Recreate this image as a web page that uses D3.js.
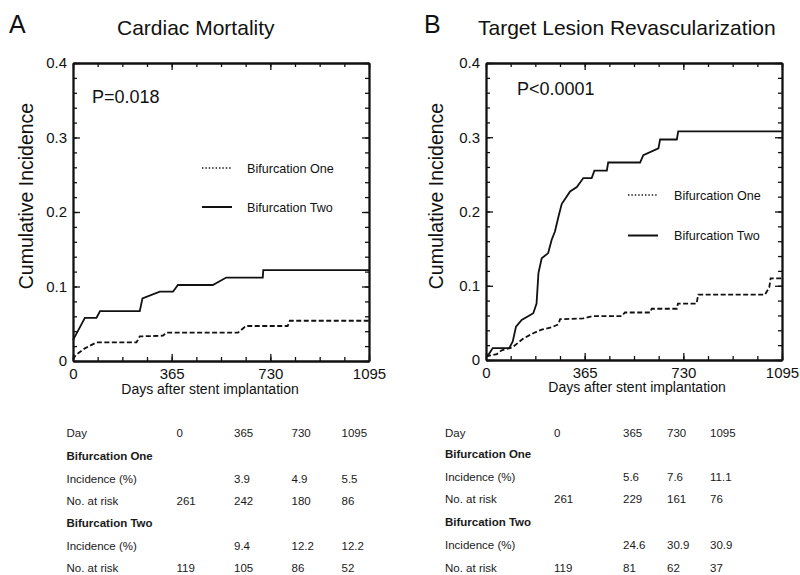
<!DOCTYPE html>
<html><head><meta charset="utf-8">
<script src="https://cdn.jsdelivr.net/npm/d3@7"></script>
<style>
html,body{margin:0;padding:0;background:#fff;}
svg{display:block;font-family:"Liberation Sans",Arial,sans-serif;}
</style></head>
<body><svg id="c" width="800" height="575"></svg>
<script>
// ---------- data ----------
const dayTicks = [0, 365, 730, 1095];
const incTicks = [0, 0.1, 0.2, 0.3, 0.4];
const incTickLabels = ["0", "0.1", "0.2", "0.3", "0.4"];

// Panel A: Cardiac Mortality
const aOneDays = [0, 10, 44, 87, 235, 247, 333, 345, 610, 640, 794, 802, 1095];
const aOneInc  = [0.002, 0.008, 0.017, 0.025, 0.025, 0.033, 0.034, 0.038, 0.038, 0.047, 0.047, 0.054, 0.054];
const aTwoDays = [0, 44, 87, 100, 247, 257, 321, 370, 388, 517, 567, 702, 704, 1095];
const aTwoInc  = [0.028, 0.058, 0.058, 0.067, 0.067, 0.084, 0.093, 0.093, 0.102, 0.102, 0.112, 0.112, 0.122, 0.122];

// Panel B: Target Lesion Revascularization
const bOneDays = [0, 40, 58, 89, 101, 138, 175, 206, 243, 268, 274, 360, 391, 502, 514, 607, 613, 706, 710, 779, 785, 1032, 1048, 1053, 1095];
const bOneInc  = [0.005, 0.008, 0.013, 0.016, 0.018, 0.029, 0.036, 0.041, 0.044, 0.048, 0.055, 0.056, 0.059, 0.059, 0.064, 0.064, 0.069, 0.069, 0.076, 0.076, 0.088, 0.088, 0.098, 0.110, 0.110];
const bTwoDays = [0, 9, 25, 86, 99, 111, 132, 175, 187, 194, 206, 230, 243, 255, 268, 280, 311, 336, 360, 391, 401, 447, 452, 570, 582, 638, 644, 706, 711, 1095];
const bTwoInc  = [0.007, 0.007, 0.016, 0.016, 0.025, 0.045, 0.054, 0.063, 0.076, 0.117, 0.137, 0.144, 0.162, 0.173, 0.193, 0.210, 0.227, 0.233, 0.245, 0.245, 0.255, 0.255, 0.266, 0.266, 0.276, 0.285, 0.297, 0.297, 0.308, 0.308];

// Tables
const tableHeader = ["Day", "0", "365", "730", "1095"];
const aOneIncTable = ["", "3.9", "4.9", "5.5"];
const aOneRisk = ["261", "242", "180", "86"];
const aTwoIncTable = ["", "9.4", "12.2", "12.2"];
const aTwoRisk = ["119", "105", "86", "52"];
const bOneIncTable = ["", "5.6", "7.6", "11.1"];
const bOneRisk = ["261", "229", "161", "76"];
const bTwoIncTable = ["", "24.6", "30.9", "30.9"];
const bTwoRisk = ["119", "81", "62", "37"];

// ---------- drawing ----------
const svg = d3.select("#c");
const ink = "#111";

function panel(cfg) {
  const g = svg.append("g");
  const x = d3.scaleLinear().domain([0, 1095]).range([cfg.left, cfg.right]);
  const y = d3.scaleLinear().domain([0, 0.4]).range([cfg.bottom, cfg.top]);
  const minorX = d3.range(0, 1096, 91.25);
  const minorY = d3.range(0, 0.401, 0.02);

  function styleAxis(sel) {
    sel.selectAll("path.domain").attr("stroke", ink).attr("stroke-width", 1.8);
    sel.selectAll(".tick line").attr("stroke", ink).attr("stroke-width", 1.3);
    sel.selectAll(".tick text").attr("fill", ink).style("font-size", "15px")
      .style("font-family", '"Liberation Sans",Arial,sans-serif');
  }
  // minor ticks
  const axes = [
    [d3.axisLeft(y).tickValues(minorY).tickSize(-4).tickFormat(""), `translate(${cfg.left},0)`],
    [d3.axisRight(y).tickValues(minorY).tickSize(-4).tickFormat(""), `translate(${cfg.right},0)`],
    [d3.axisTop(x).tickValues(minorX).tickSize(-4).tickFormat(""), `translate(0,${cfg.top})`],
    [d3.axisBottom(x).tickValues(minorX).tickSize(-4).tickFormat(""), `translate(0,${cfg.bottom})`],
    [d3.axisRight(y).tickValues(incTicks).tickSize(-7).tickSizeOuter(0).tickFormat(""), `translate(${cfg.right},0)`],
    [d3.axisTop(x).tickValues(dayTicks).tickSize(-7).tickSizeOuter(0).tickFormat(""), `translate(0,${cfg.top})`],
    [d3.axisLeft(y).tickValues(incTicks).tickSize(-7).tickSizeOuter(0).tickPadding(6)
       .tickFormat((d, i) => incTickLabels[i]), `translate(${cfg.left},0)`],
    [d3.axisBottom(x).tickValues(dayTicks).tickSize(-7).tickSizeOuter(0).tickPadding(7)
       .tickFormat(d => String(d)), `translate(0,${cfg.bottom})`]
  ];
  axes.forEach(([ax, tr]) => {
    const a = g.append("g").attr("transform", tr).call(ax.tickSizeOuter(0));
    styleAxis(a);
  });

  const line = d3.line().x(d => x(d[0])).y(d => y(d[1]));
  g.append("path").datum(d3.zip(cfg.oneDays, cfg.oneInc))
    .attr("d", line).attr("fill", "none").attr("stroke", ink)
    .attr("stroke-width", 1.8).attr("stroke-dasharray", "5,2.5");
  g.append("path").datum(d3.zip(cfg.twoDays, cfg.twoInc))
    .attr("d", line).attr("fill", "none").attr("stroke", ink)
    .attr("stroke-width", 1.8);

  // titles
  g.append("text").attr("x", cfg.letterX).attr("y", 33).text(cfg.letter)
    .attr("fill", ink).style("font-size", "25px");
  g.append("text").attr("x", cfg.titleX).attr("y", 35).text(cfg.title)
    .attr("fill", ink).style("font-size", "21px");
  g.append("text").attr("x", cfg.pX).attr("y", cfg.pY).text(cfg.p)
    .attr("fill", ink).style("font-size", "18px");
  g.append("text").attr("transform", `translate(${cfg.yLabX},196) rotate(-90)`)
    .attr("text-anchor", "middle").text("Cumulative Incidence")
    .attr("fill", ink).style("font-size", "19.5px");
  g.append("text").attr("x", cfg.xLabX).attr("y", cfg.xLabY).attr("text-anchor", "middle")
    .text("Days after stent implantation").attr("fill", ink).style("font-size", "14px");

  // legend
  const L = cfg.legend;
  g.append("line").attr("x1", L.x1).attr("x2", L.x2).attr("y1", L.y1).attr("y2", L.y1)
    .attr("stroke", ink).attr("stroke-width", 1.6).attr("stroke-dasharray", "1.4,2");
  g.append("line").attr("x1", L.x1).attr("x2", L.x2).attr("y1", L.y2).attr("y2", L.y2)
    .attr("stroke", ink).attr("stroke-width", 2);
  g.append("text").attr("x", L.tx).attr("y", L.y1 + 4.5).text("Bifurcation One")
    .attr("fill", ink).style("font-size", "12.6px");
  g.append("text").attr("x", L.tx).attr("y", L.y2 + 4.5).text("Bifurcation Two")
    .attr("fill", ink).style("font-size", "12.6px");

  // table
  const T = cfg.table;
  const rows = [
    {label: "Day", vals: tableHeader.slice(1), bold: false},
    {label: "Bifurcation One", vals: [], bold: true},
    {label: "Incidence (%)", vals: cfg.oneIncT, bold: false},
    {label: "No. at risk", vals: cfg.oneRisk, bold: false},
    {label: "Bifurcation Two", vals: [], bold: true},
    {label: "Incidence (%)", vals: cfg.twoIncT, bold: false},
    {label: "No. at risk", vals: cfg.twoRisk, bold: false}
  ];
  rows.forEach((r, i) => {
    const yy = T.rowY[i] + 4;
    g.append("text").attr("x", T.labelX).attr("y", yy).text(r.label)
      .attr("fill", "#1a1a1a").style("font-size", "11.5px")
      .style("font-weight", r.bold ? "bold" : "normal");
    r.vals.forEach((v, j) => {
      g.append("text").attr("x", T.colX[j]).attr("y", yy).text(v)
        .attr("fill", "#1a1a1a").style("font-size", "11.5px");
    });
  });
}

panel({
  left: 73, right: 369, top: 63, bottom: 361,
  oneDays: aOneDays, oneInc: aOneInc, twoDays: aTwoDays, twoInc: aTwoInc,
  letter: "A", letterX: 9, title: "Cardiac Mortality", titleX: 117,
  p: "P=0.018", pX: 92, pY: 103,
  yLabX: 33, xLabX: 210, xLabY: 394,
  legend: {x1: 202, x2: 232, y1: 168, y2: 207, tx: 247},
  oneIncT: aOneIncTable, oneRisk: aOneRisk, twoIncT: aTwoIncTable, twoRisk: aTwoRisk,
  table: {labelX: 66.5, colX: [176.5, 234, 291.5, 341.5],
          rowY: [433, 456, 478.5, 500.5, 523, 545.5, 567.5]}
});

panel({
  left: 486, right: 782, top: 63, bottom: 360,
  oneDays: bOneDays, oneInc: bOneInc, twoDays: bTwoDays, twoInc: bTwoInc,
  letter: "B", letterX: 424, title: "Target Lesion Revascularization", titleX: 478,
  p: "P<0.0001", pX: 517, pY: 95,
  yLabX: 443, xLabX: 637, xLabY: 392,
  legend: {x1: 628, x2: 658, y1: 195, y2: 235.5, tx: 674},
  oneIncT: bOneIncTable, oneRisk: bOneRisk, twoIncT: bTwoIncTable, twoRisk: bTwoRisk,
  table: {labelX: 445, colX: [554, 623, 667, 710],
          rowY: [433, 454, 476.5, 499, 521.5, 545, 567.5]}
});
</script></body></html>
